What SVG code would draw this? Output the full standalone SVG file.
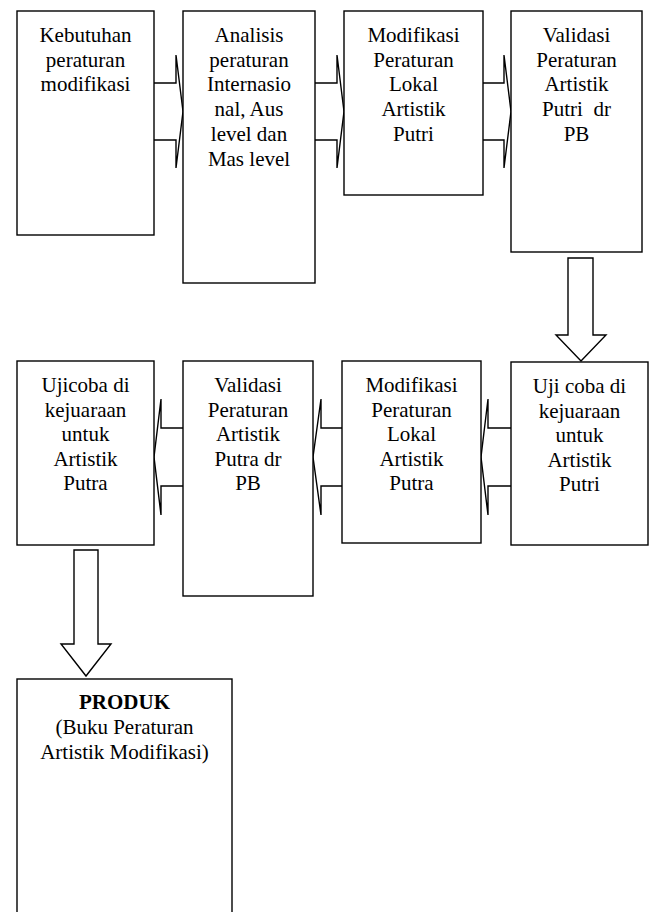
<svg xmlns="http://www.w3.org/2000/svg" width="654" height="912" viewBox="0 0 654 912">
<style>
.box{fill:#fff;stroke:#000;stroke-width:1.4}
.arr{fill:#fff;stroke:#000;stroke-width:1.4;stroke-linejoin:miter}
.b{font-weight:bold}
</style>
<rect width="654" height="912" fill="#fff"/>
<g id="connectors">
<path class="arr" d="M154,83 H176 V55 L183,111.5 L176,168 V140 H154"/>
<path class="arr" d="M315,83 H337 V55 L344,111.5 L337,168 V140 H315"/>
<path class="arr" d="M483,83 H504 V55 L511,111.5 L504,168 V140 H483"/>
<path class="arr" d="M568,258 H593 V335 H606 L581,361 L556,335 H568 Z"/>
<path class="arr" d="M511,428 H488 V399 L481,457 L488,515 V486 H511"/>
<path class="arr" d="M342,428 H321 V399 L313,457 L321,515 V486 H342"/>
<path class="arr" d="M183,428 H161 V399 L154,457 L161,515 V486 H183"/>
<path class="arr" d="M74,550 H98 V644 H111 L86,676 L61,644 H74 Z"/>
</g>
<g font-family="'Liberation Serif', serif" font-size="21" text-anchor="middle" fill="#000">
<g id="n1">
<rect class="box" x="17" y="11" width="137" height="224"/>
<text x="85.5" y="42">Kebutuhan</text>
<text x="85.5" y="66.7">peraturan</text>
<text x="85.5" y="91.4">modifikasi</text>
</g>
<g id="n2">
<rect class="box" x="183" y="11" width="132" height="272"/>
<text x="249" y="42">Analisis</text>
<text x="249" y="66.7">peraturan</text>
<text x="249" y="91.4">Internasio</text>
<text x="249" y="116.1">nal, Aus</text>
<text x="249" y="140.8">level dan</text>
<text x="249" y="165.5">Mas level</text>
</g>
<g id="n3">
<rect class="box" x="344" y="11" width="139" height="184"/>
<text x="413.5" y="42">Modifikasi</text>
<text x="413.5" y="66.7">Peraturan</text>
<text x="413.5" y="91.4">Lokal</text>
<text x="413.5" y="116.1">Artistik</text>
<text x="413.5" y="140.8">Putri</text>
</g>
<g id="n4">
<rect class="box" x="511" y="11" width="131" height="241"/>
<text x="576.5" y="42">Validasi</text>
<text x="576.5" y="66.7">Peraturan</text>
<text x="576.5" y="91.4">Artistik</text>
<text x="576.5" y="116.1" xml:space="preserve">Putri  dr</text>
<text x="576.5" y="140.8">PB</text>
</g>
<g id="n5">
<rect class="box" x="511" y="362" width="137" height="183"/>
<text x="579.5" y="393">Uji coba di</text>
<text x="579.5" y="417.5">kejuaraan</text>
<text x="579.5" y="442">untuk</text>
<text x="579.5" y="466.5">Artistik</text>
<text x="579.5" y="491">Putri</text>
</g>
<g id="n6">
<rect class="box" x="342" y="361" width="139" height="182"/>
<text x="411.5" y="392">Modifikasi</text>
<text x="411.5" y="416.5">Peraturan</text>
<text x="411.5" y="441">Lokal</text>
<text x="411.5" y="465.5">Artistik</text>
<text x="411.5" y="490">Putra</text>
</g>
<g id="n7">
<rect class="box" x="183" y="361" width="130" height="235"/>
<text x="248" y="392">Validasi</text>
<text x="248" y="416.5">Peraturan</text>
<text x="248" y="441">Artistik</text>
<text x="248" y="465.5">Putra dr</text>
<text x="248" y="490">PB</text>
</g>
<g id="n8">
<rect class="box" x="17" y="361" width="137" height="184"/>
<text x="85.5" y="392">Ujicoba di</text>
<text x="85.5" y="416.5">kejuaraan</text>
<text x="85.5" y="441">untuk</text>
<text x="85.5" y="465.5">Artistik</text>
<text x="85.5" y="490">Putra</text>
</g>
<g id="n9">
<rect class="box" x="17" y="679" width="215" height="260"/>
<text class="b" x="124.5" y="709">PRODUK</text>
<text x="124.5" y="734">(Buku Peraturan</text>
<text x="124.5" y="759">Artistik Modifikasi)</text>
</g>
</g>
</svg>
